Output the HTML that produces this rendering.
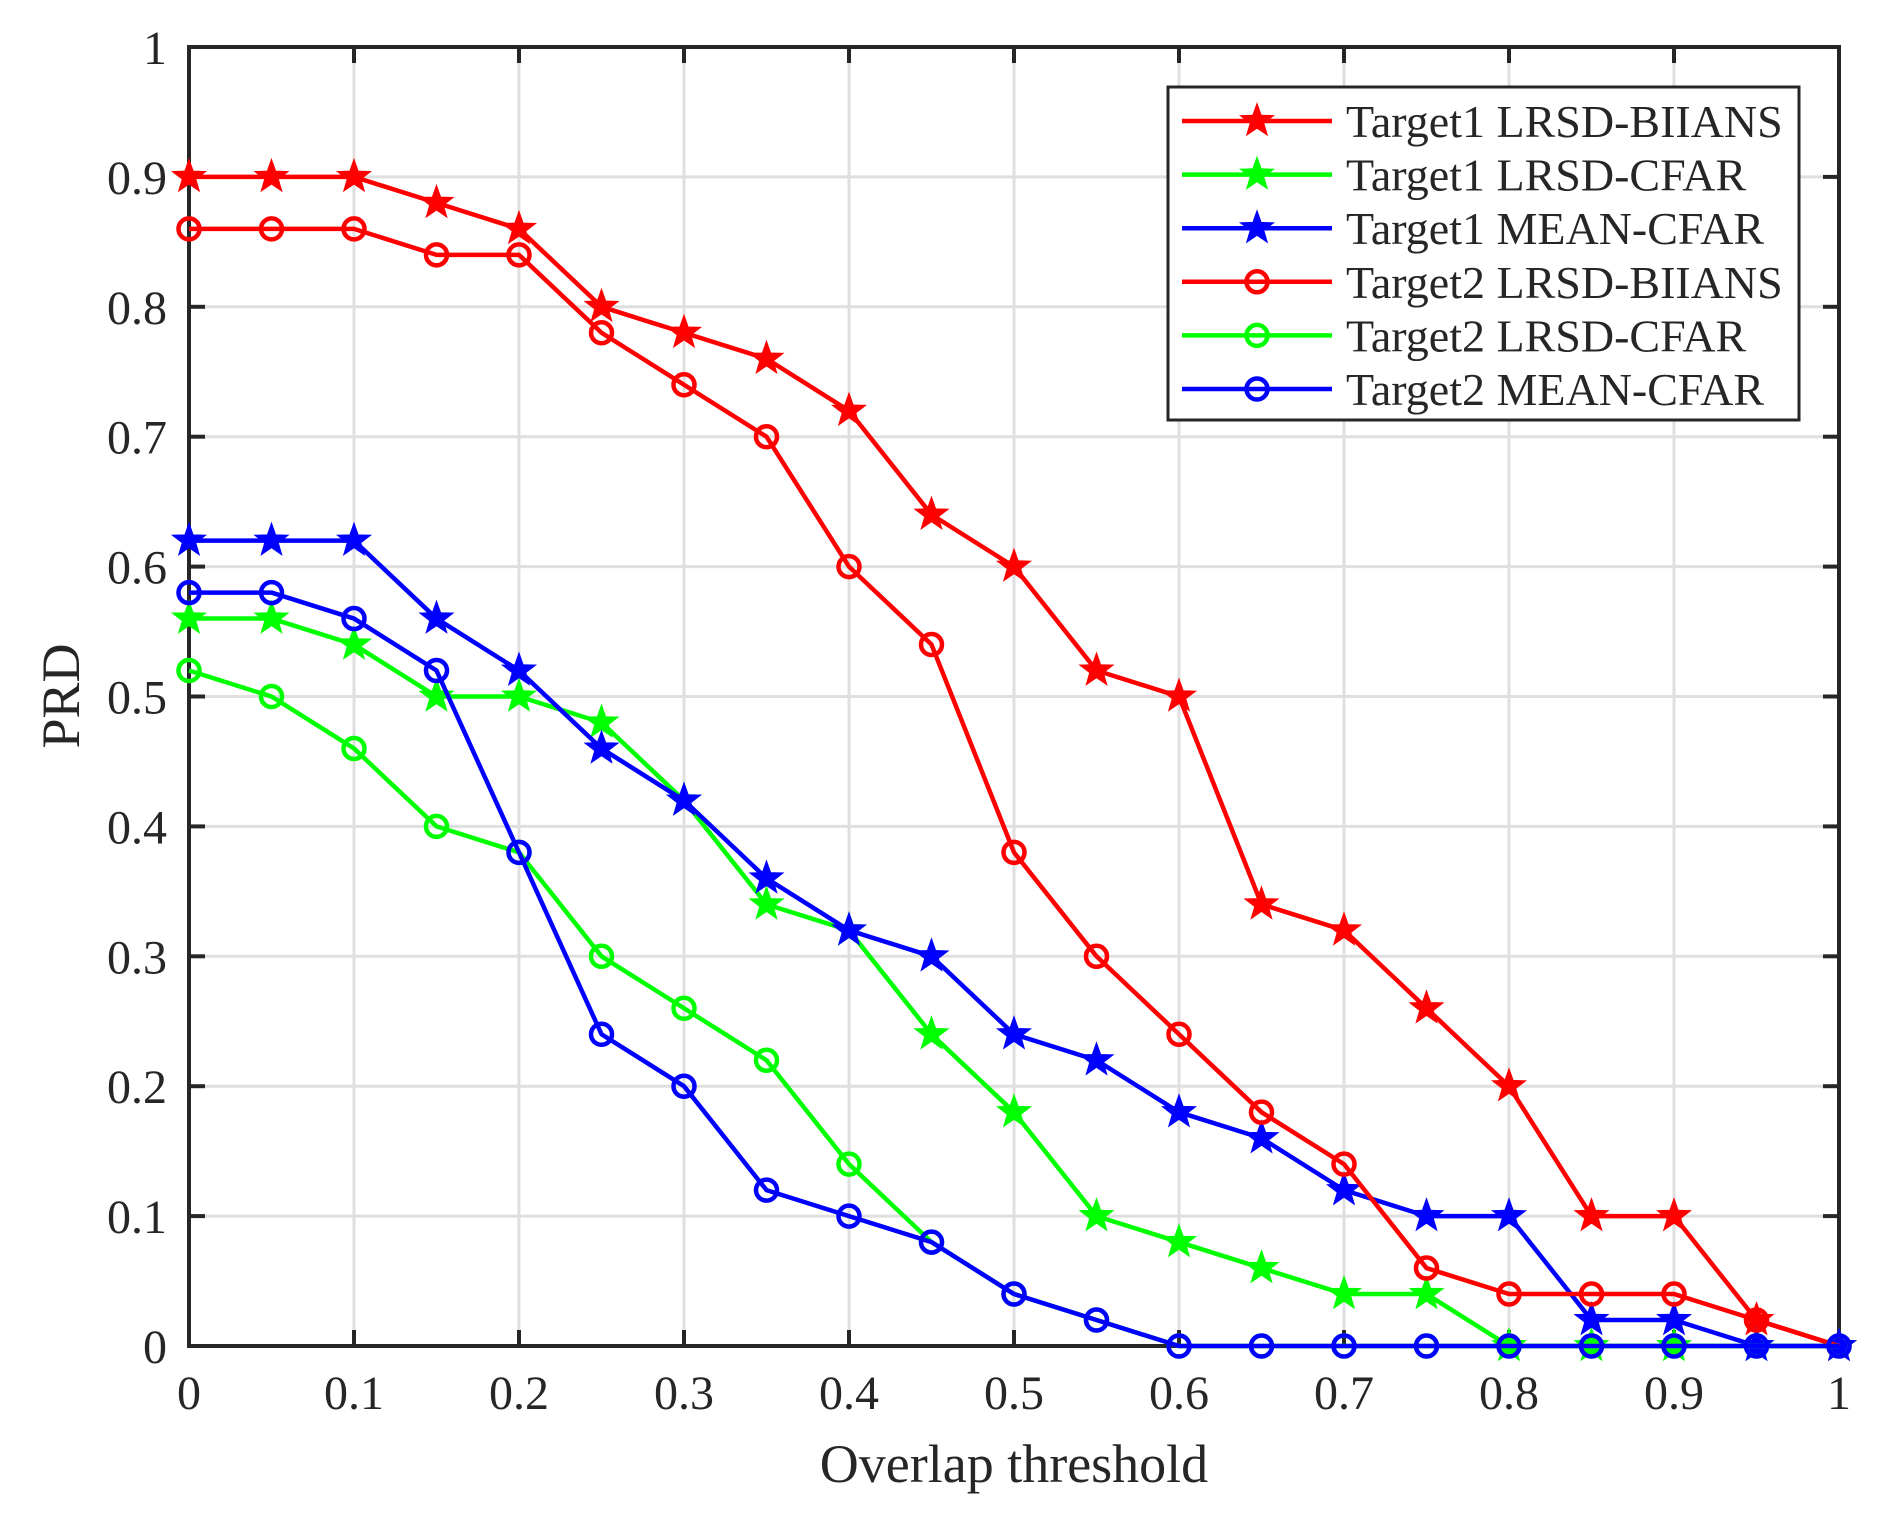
<!DOCTYPE html>
<html><head><meta charset="utf-8"><style>body{margin:0;background:#fff}svg{display:block}</style></head>
<body>
<svg id="s" width="1882" height="1535" xmlns="http://www.w3.org/2000/svg" font-family="'Liberation Serif', serif" fill="#262626">
<rect width="1882" height="1535" fill="#fff"/>
</svg>
<script>
const s=document.getElementById('s');const NS='http://www.w3.org/2000/svg';
const X0=189,X1=1839,Y0=1346,Y1=47;
const px=v=>X0+v*(X1-X0), py=v=>Y0-v*(Y0-Y1);
function el(t,a,txt){const e=document.createElementNS(NS,t);for(const k in a)e.setAttribute(k,a[k]);if(txt!=null)e.textContent=txt;s.appendChild(e);return e;}
for(let i=1;i<10;i++){el('line',{x1:px(i/10),x2:px(i/10),y1:Y0,y2:Y1,stroke:'#dfdfdf','stroke-width':3});el('line',{x1:X0,x2:X1,y1:py(i/10),y2:py(i/10),stroke:'#dfdfdf','stroke-width':3});}
for(let i=0;i<=10;i++){const x=px(i/10),y=py(i/10);
el('line',{x1:x,x2:x,y1:Y0,y2:Y0-16,stroke:'#262626','stroke-width':4});el('line',{x1:x,x2:x,y1:Y1,y2:Y1+16,stroke:'#262626','stroke-width':4});
el('line',{x1:X0,x2:X0+16,y1:y,y2:y,stroke:'#262626','stroke-width':4});el('line',{x1:X1,x2:X1-16,y1:y,y2:y,stroke:'#262626','stroke-width':4});
const l=i==0?'0':i==10?'1':(i/10).toFixed(1);
el('text',{x:x,y:Y0+63,'font-size':48,'text-anchor':'middle'},l);
el('text',{x:X0-22,y:y+17,'font-size':48,'text-anchor':'end'},l);}
el('rect',{x:X0,y:Y1,width:X1-X0,height:Y0-Y1,fill:'none',stroke:'#262626','stroke-width':4});
el('text',{x:(X0+X1)/2,y:1482,'font-size':54,'text-anchor':'middle'},'Overlap threshold');
el('text',{x:0,y:0,'font-size':54,'text-anchor':'middle',transform:'translate(79,696) rotate(-90)'},'PRD');
const R='#ff0000',G='#00ff00',B='#0000ff';
const D=[
[R,'s','Target1 LRSD-BIIANS',[.9,.9,.9,.88,.86,.8,.78,.76,.72,.64,.6,.52,.5,.34,.32,.26,.2,.1,.1,.02,0]],
[G,'s','Target1 LRSD-CFAR',[.56,.56,.54,.5,.5,.48,.42,.34,.32,.24,.18,.1,.08,.06,.04,.04,0,0,0,0,0]],
[B,'s','Target1 MEAN-CFAR',[.62,.62,.62,.56,.52,.46,.42,.36,.32,.3,.24,.22,.18,.16,.12,.1,.1,.02,.02,0,0]],
[R,'o','Target2 LRSD-BIIANS',[.86,.86,.86,.84,.84,.78,.74,.7,.6,.54,.38,.3,.24,.18,.14,.06,.04,.04,.04,.02,0]],
[G,'o','Target2 LRSD-CFAR',[.52,.5,.46,.4,.38,.3,.26,.22,.14,.08,.04,.02,0,0,0,0,0,0,0,0,0]],
[B,'o','Target2 MEAN-CFAR',[.58,.58,.56,.52,.38,.24,.2,.12,.1,.08,.04,.02,0,0,0,0,0,0,0,0,0]]];
function star(x,y,c){const r=16,ri=6.5;let p=[];for(let k=0;k<10;k++){const a=-Math.PI/2+k*Math.PI/5,rr=k%2?ri:r;p.push((x+rr*Math.cos(a)).toFixed(1)+','+(y+rr*Math.sin(a)).toFixed(1));}el('polygon',{points:p.join(' '),fill:c,stroke:c,'stroke-width':2});}
function mark(t,x,y,c){if(t=='s')star(x,y,c);else el('circle',{cx:x,cy:y,r:10.5,fill:'none',stroke:c,'stroke-width':4.5});}
D.forEach(d=>{const pts=d[3].map((v,i)=>[px(i*0.05),py(v)]);
el('polyline',{points:pts.map(p=>p.join(',')).join(' '),fill:'none',stroke:d[0],'stroke-width':4.5,'stroke-linejoin':'round'});
pts.forEach(p=>mark(d[1],p[0],p[1],d[0]));});
el('rect',{x:1168,y:87,width:631,height:333,fill:'#fff',stroke:'#262626','stroke-width':3});
D.forEach((d,i)=>{const y=121+i*53.6;el('line',{x1:1182,x2:1332,y1:y,y2:y,stroke:d[0],'stroke-width':4.5});mark(d[1],1257,y,d[0]);
el('text',{x:1346,y:y+16,'font-size':46},d[2]);});
</script>
</body></html>
